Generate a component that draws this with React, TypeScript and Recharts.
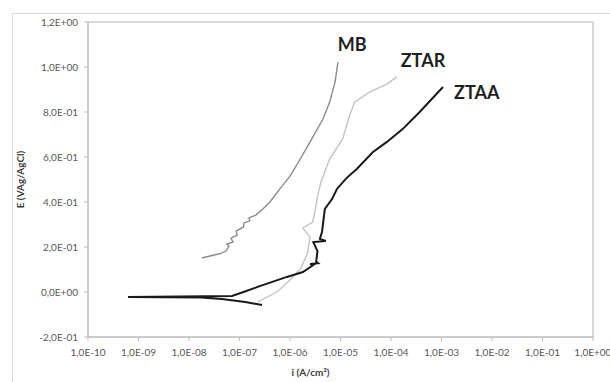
import React from "react";
import { LineChart, Line, XAxis, YAxis, ReferenceArea, ReferenceDot } from "recharts";

// current density (A/cm²) and potential (V vs Ag/AgCl)
const mbI = [1.8e-8, 2.6e-8, 4.2e-8, 5.4e-8, 6.2e-8, 5.6e-8, 7.4e-8, 6.8e-8, 9.0e-8, 8.6e-8, 1.2e-7, 1.23e-7, 1.6e-7, 1.55e-7, 2.1e-7, 2.9e-7, 4.0e-7, 6.3e-7, 1.0e-6, 1.4e-6, 2.5e-6, 4.5e-6, 6.1e-6, 7.8e-6, 8.9e-6];
const mbE = [0.151, 0.16, 0.171, 0.182, 0.204, 0.213, 0.222, 0.24, 0.253, 0.271, 0.289, 0.307, 0.316, 0.329, 0.342, 0.369, 0.4, 0.458, 0.515, 0.569, 0.667, 0.769, 0.844, 0.933, 1.022];

const ztarI = [2.3e-7, 5.5e-7, 1.0e-6, 1.6e-6, 2.2e-6, 2.5e-6, 1.8e-6, 2.8e-6, 3.2e-6, 3.6e-6, 4.1e-6, 6.1e-6, 1.1e-5, 1.5e-5, 1.9e-5, 3.8e-5, 8.3e-5, 1.3e-4];
const ztarE = [-0.044, 0.0, 0.053, 0.102, 0.169, 0.244, 0.284, 0.311, 0.369, 0.436, 0.489, 0.591, 0.68, 0.782, 0.844, 0.889, 0.924, 0.956];

const ztaaI = [2.8e-7, 1.3e-7, 4.5e-8, 1.7e-8, 6.2e-10, 6.6e-9, 7.1e-8, 1.2e-7, 2.6e-7, 8.7e-7, 1.8e-6, 2.9e-6, 2.5e-6, 3.6e-6, 3.3e-6, 3.5e-6, 2.9e-6, 5.1e-6, 3.9e-6, 4.3e-6, 4.9e-6, 6.8e-6, 8.5e-6, 1.3e-5, 2.1e-5, 4.4e-5, 8.3e-5, 1.7e-4, 3.7e-4, 5.9e-4, 1.07e-3];
const ztaaE = [-0.058, -0.044, -0.031, -0.024, -0.022, -0.02, -0.018, 0.0, 0.027, 0.067, 0.089, 0.12, 0.124, 0.128, 0.135, 0.182, 0.222, 0.227, 0.236, 0.267, 0.369, 0.413, 0.458, 0.505, 0.547, 0.622, 0.667, 0.724, 0.8, 0.849, 0.911];

const xTicks = [1e-10, 1e-9, 1e-8, 1e-7, 1e-6, 1e-5, 1e-4, 1e-3, 1e-2, 1e-1, 1];
const yTicks = [-0.2, 0, 0.2, 0.4, 0.6, 0.8, 1.0, 1.2];

const seriesLabels = [
  { name: "MB", i: 1.7e-5, e: 1.1 },
  { name: "ZTAR", i: 4.3e-4, e: 1.027 },
  { name: "ZTAA", i: 5.0e-3, e: 0.884 },
];

const toRows = (xs: number[], ys: number[]) => xs.map((i, k) => ({ i, e: ys[k] }));

const pad2 = (n: number) => (n < 10 ? "0" + n : "" + n);

const fmtX = (v: number) => {
  const exp = Math.round(Math.log10(v));
  return "1,0E" + (exp < 0 ? "-" : "+") + pad2(Math.abs(exp));
};

const fmtY = (v: number) => {
  if (Math.abs(v) < 1e-9) return "0,0E+00";
  const exp = Math.floor(Math.log10(Math.abs(v)) + 1e-9);
  const mant = (v / Math.pow(10, exp)).toFixed(1).replace(".", ",");
  return mant + "E" + (exp < 0 ? "-" : "+") + pad2(Math.abs(exp));
};

const tickStyle = { fill: "#595959", fontSize: 10, fontFamily: "Lato" };

export default function App() {
  return (
    <div style={{ position: "relative", width: 610, height: 382, background: "#fff", fontFamily: "Lato" }}>
      <style>{`body{margin:0}`}</style>
      <div style={{ position: "absolute", left: 12, top: 13, width: 600, height: 380, border: "1px solid #d9d9d9" }} />
      <div style={{ position: "absolute", left: 0, top: 0 }}>
        <LineChart width={610} height={382} margin={{ top: 22, right: 17, left: 12, bottom: 0 }}>
          <XAxis
            type="number"
            dataKey="i"
            scale="log"
            domain={[1e-10, 1]}
            ticks={xTicks}
            tickFormatter={fmtX}
            tick={tickStyle}
            tickSize={4}
            tickMargin={8}
            height={45}
            stroke="#bfbfbf"
            allowDataOverflow
            label={{ value: "i (A/cm²)", position: "insideBottom", offset: 6, dx: -30, fill: "#404040", fontSize: 10, fontWeight: 700 }}
          />
          <YAxis
            type="number"
            dataKey="e"
            domain={[-0.2, 1.2]}
            ticks={yTicks}
            tickFormatter={fmtY}
            tick={tickStyle}
            tickSize={4}
            tickMargin={6}
            width={76}
            stroke="#bfbfbf"
            allowDataOverflow
            label={{ value: "E (VAg/AgCl)", angle: -90, position: "insideLeft", offset: 8, fill: "#404040", fontSize: 10, fontWeight: 700, style: { textAnchor: "middle" } }}
          />
          <ReferenceArea x1={1e-10} x2={1} y1={-0.2} y2={1.2} fill="none" stroke="#b3b3b3" strokeWidth={1} />
          <Line data={toRows(mbI, mbE)} dataKey="e" type="linear" stroke="#8c8c8c" strokeWidth={1.4} dot={false} isAnimationActive={false} />
          <Line data={toRows(ztarI, ztarE)} dataKey="e" type="linear" stroke="#c4c4c4" strokeWidth={1.4} dot={false} isAnimationActive={false} />
          <Line data={toRows(ztaaI, ztaaE)} dataKey="e" type="linear" stroke="#1a1a1a" strokeWidth={2} dot={false} isAnimationActive={false} />
          {seriesLabels.map((s) => (
            <ReferenceDot
              key={s.name}
              x={s.i}
              y={s.e}
              r={1}
              fill="none"
              stroke="none"
              label={{ value: s.name, position: "center", fill: "#1f1f1f", fontSize: 18, fontWeight: 700, fontFamily: "Lato" }}
            />
          ))}
        </LineChart>
      </div>
    </div>
  );
}
